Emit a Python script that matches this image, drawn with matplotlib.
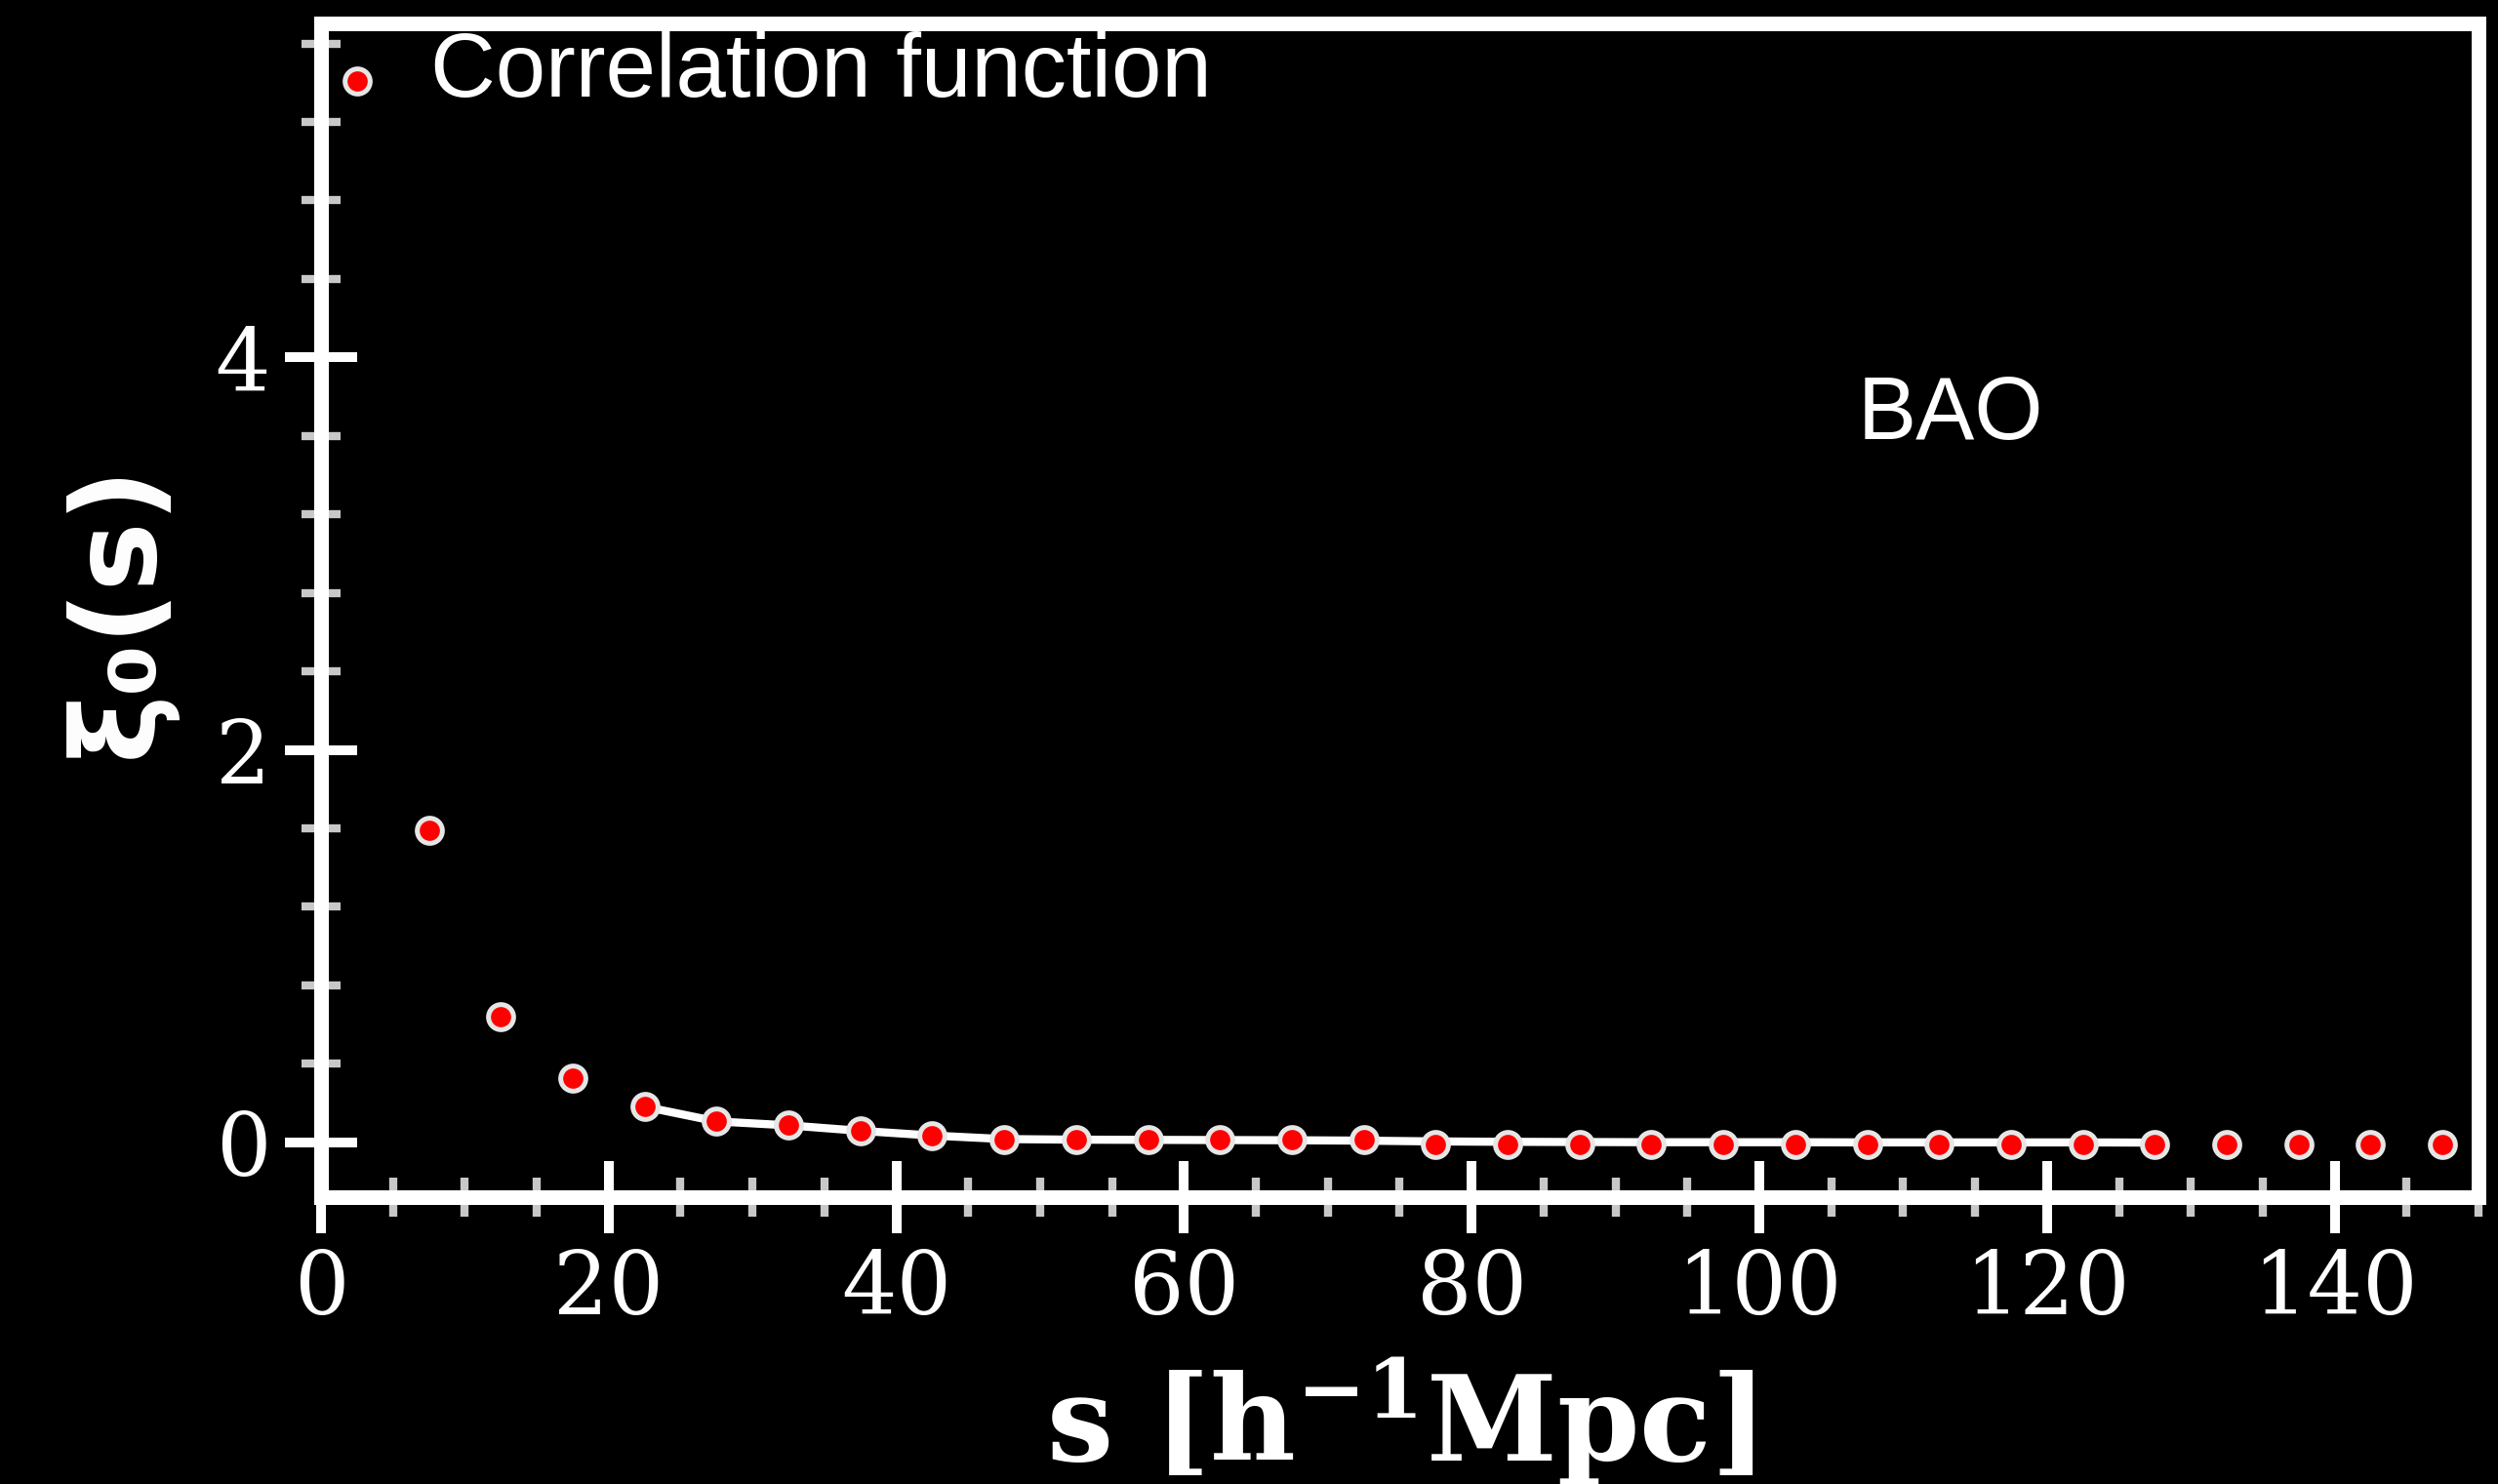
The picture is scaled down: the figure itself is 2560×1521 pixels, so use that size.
import matplotlib
matplotlib.use("Agg")
import matplotlib.pyplot as plt
from matplotlib.ticker import MultipleLocator

s_data = [2.5, 7.5, 12.5, 17.5, 22.5, 27.5, 32.5, 37.5, 42.5, 47.5,
          52.5, 57.5, 62.5, 67.5, 72.5, 77.5, 82.5, 87.5, 92.5, 97.5,
          102.5, 107.5, 112.5, 117.5, 122.5, 127.5, 132.5, 137.5, 142.5, 147.5]
xi_data = [5.41, 1.588, 0.642, 0.327, 0.180, 0.107, 0.087, 0.057, 0.033, 0.012,
           0.012, 0.012, 0.012, 0.012, 0.012, -0.010, -0.010, -0.010, -0.010, -0.010,
           -0.010, -0.010, -0.010, -0.010, -0.010, -0.010, -0.010, -0.010, -0.010, -0.010]

# model curve (white line)
s_model = [22.5, 27.5, 32.5, 37.5, 42.5, 47.5, 52.5, 57.5, 62.5, 67.5, 72.5,
           77.5, 82.5, 87.5, 92.5, 97.5, 102.5, 107.5, 112.5, 117.5, 122.5, 127.5]
xi_model = [0.181, 0.106, 0.086, 0.058, 0.034, 0.016, 0.013, 0.012, 0.011, 0.010, 0.008,
            0.004, 0.002, 0.001, 0.0, 0.0, 0.0, -0.001, -0.001, -0.001, -0.001, -0.002]

x_major = [0, 20, 40, 60, 80, 100, 120, 140]
y_major = [0, 2, 4]

fig = plt.figure(figsize=(25.6, 15.21), dpi=100, facecolor="black")
ax = fig.add_axes([0.1285, 0.1933, 0.8637, 0.7906], facecolor="black")

ax.plot(s_model, xi_model, "-", color="white", lw=6, zorder=2)
ax.plot(s_data, xi_data, "o", color="red", ms=18.5, mec="#e6e6e6", mew=3.6,
        zorder=3, label="Correlation function", linestyle="none")

ax.set_xlim(0, 150)
ax.set_ylim(-0.28, 5.70)
ax.set_xticks(x_major)
ax.set_yticks(y_major)
ax.xaxis.set_minor_locator(MultipleLocator(5))
ax.yaxis.set_minor_locator(MultipleLocator(0.4))

for sp in ax.spines.values():
    sp.set_color("white")
    sp.set_linewidth(10.8)

ax.tick_params(which="major", direction="inout", length=52.6, width=7.2,
               color="white", labelcolor="white", labelsize=64, pad=11,
               labelfontfamily="DejaVu Serif")
ax.tick_params(which="minor", direction="inout", length=28.8, width=6,
               color="#c8c8c8")

ax.set_xlabel(r"s [h$^{\mathbf{-1}}$Mpc]", fontsize=87, fontweight="bold",
              family="DejaVu Serif", math_fontfamily="dejavuserif",
              color="white", va="baseline")
ax.xaxis.set_label_coords(0.5, -0.2254)
ax.set_ylabel("ξ₀(s)", fontsize=86, fontweight="bold", family="DejaVu Sans",
              color="white", va="center")
ax.yaxis.set_label_coords(-0.0936, 0.5)

ax.text(106.8, 3.585, "BAO", color="white", fontsize=65,
        family="Liberation Sans", va="baseline", ha="left")

# the first data point sits right where the legend key goes
leg = ax.legend(loc="upper left", bbox_to_anchor=(0.0062, 0.9938), borderaxespad=0,
                borderpad=0, handlelength=0.5, handletextpad=0.57, frameon=False,
                numpoints=1, prop={"family": "Liberation Sans", "size": 66.5},
                labelcolor="white")
leg.legend_handles[0].set_visible(False)

fig.savefig("out.png", dpi=100, facecolor="black")
